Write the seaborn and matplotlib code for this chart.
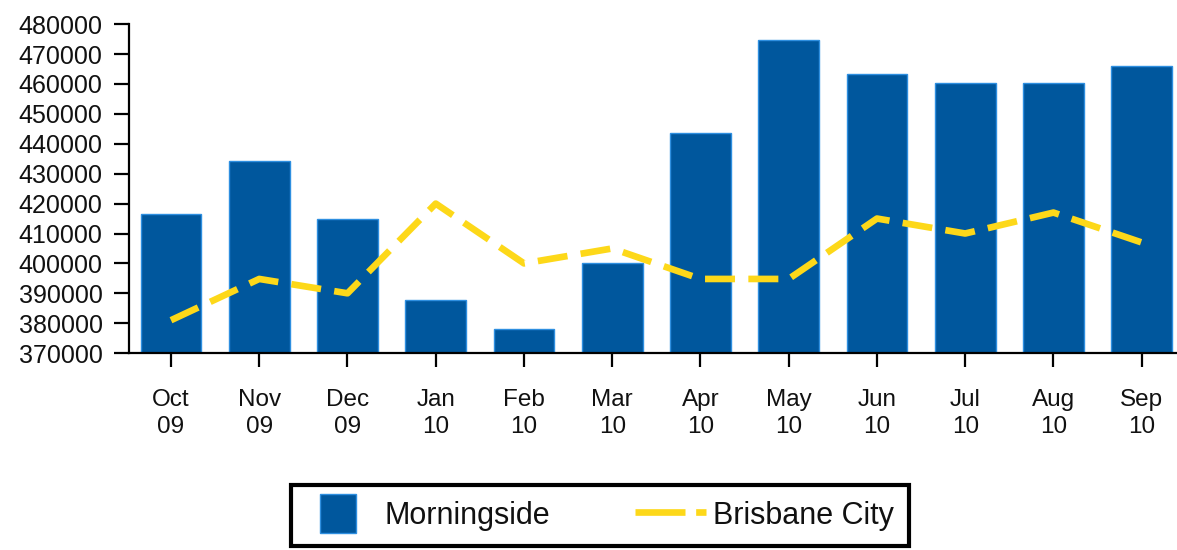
import matplotlib
matplotlib.use("Agg")
import matplotlib.pyplot as plt
from matplotlib.patches import Patch, Rectangle
from matplotlib.lines import Line2D
from matplotlib.legend_handler import HandlerPatch
import seaborn as sns
import pandas as pd
import numpy as np

months = ["Oct\n09", "Nov\n09", "Dec\n09", "Jan\n10", "Feb\n10", "Mar\n10",
          "Apr\n10", "May\n10", "Jun\n10", "Jul\n10", "Aug\n10", "Sep\n10"]
morningside = [416500, 434400, 415000, 387800, 378000, 400200,
               443500, 474800, 463300, 460500, 460500, 466000]
brisbane_city = [381000, 394800, 390000, 420000, 400000, 405000,
                 394800, 394800, 415000, 410000, 417000, 407000]
y_ticks = list(range(370000, 480001, 10000))

bar_color = "#00579D"
edge_color = "#2E8FE0"
line_color = "#FDD819"
text_color = "#111111"

sns.set_theme(style="white")
plt.rcParams["font.family"] = ["Liberation Sans", "DejaVu Sans"]

df = pd.DataFrame({"month": months, "Morningside": morningside,
                   "Brisbane City": brisbane_city})

fig = plt.figure(figsize=(11.77, 5.5), dpi=100)
ax = fig.add_axes([0.1096, 0.358, 0.8904, 0.598])

sns.barplot(data=df, x="month", y="Morningside", color=bar_color,
            saturation=1, width=0.69, edgecolor=edge_color, linewidth=1, ax=ax)
sns.lineplot(x=np.arange(len(months)), y=df["Brisbane City"], color=line_color,
             linewidth=4.8, ax=ax)
ax.lines[-1].set_dashes([4.5, 2.0])

ax.set_ylim(370000, 480000)
ax.set_xlim(-0.476, 11.4)
ax.set_yticks(y_ticks)
ax.set_yticklabels([str(v) for v in y_ticks])
ax.set_xlabel("")
ax.set_ylabel("")

for side in ["top", "right"]:
    ax.spines[side].set_visible(False)
for side in ["left", "bottom"]:
    ax.spines[side].set_color("black")
    ax.spines[side].set_linewidth(1.6)

ax.tick_params(axis="y", direction="out", length=11, width=1.6, color="black",
               labelsize=18, labelcolor=text_color, pad=8, left=True)
ax.tick_params(axis="x", direction="out", length=10, width=1.6, color="black",
               labelsize=17.5, labelcolor=text_color, pad=16, bottom=True)
for lbl in ax.get_xticklabels():
    lbl.set_linespacing(1.3)


def small_square(legend, orig_handle, xdescent, ydescent, width, height, fontsize):
    # narrower swatch than the dashed-line handle, like the original legend
    return Rectangle((-xdescent + 0.2 * width, -ydescent - 0.22 * height),
                     0.5 * width, 1.44 * height)


handles = [Patch(facecolor=bar_color, edgecolor=edge_color),
           Line2D([0], [0], color=line_color, linewidth=4.8, dashes=[7.5, 1.6])]
leg = fig.legend(handles, ["Morningside", "Brisbane City"], loc="center",
                 bbox_to_anchor=(0.510, 0.0627), ncol=2, fontsize=22,
                 frameon=True, fancybox=False, edgecolor="black", framealpha=1,
                 handlelength=2.3, handleheight=1.0, handletextpad=0.25,
                 columnspacing=2.8, borderpad=0.5, borderaxespad=0,
                 handler_map={Patch: HandlerPatch(patch_func=small_square)})
leg.get_frame().set_linewidth(3.0)
for t in leg.get_texts():
    t.set_color(text_color)

fig.savefig("out.png", dpi=100)
